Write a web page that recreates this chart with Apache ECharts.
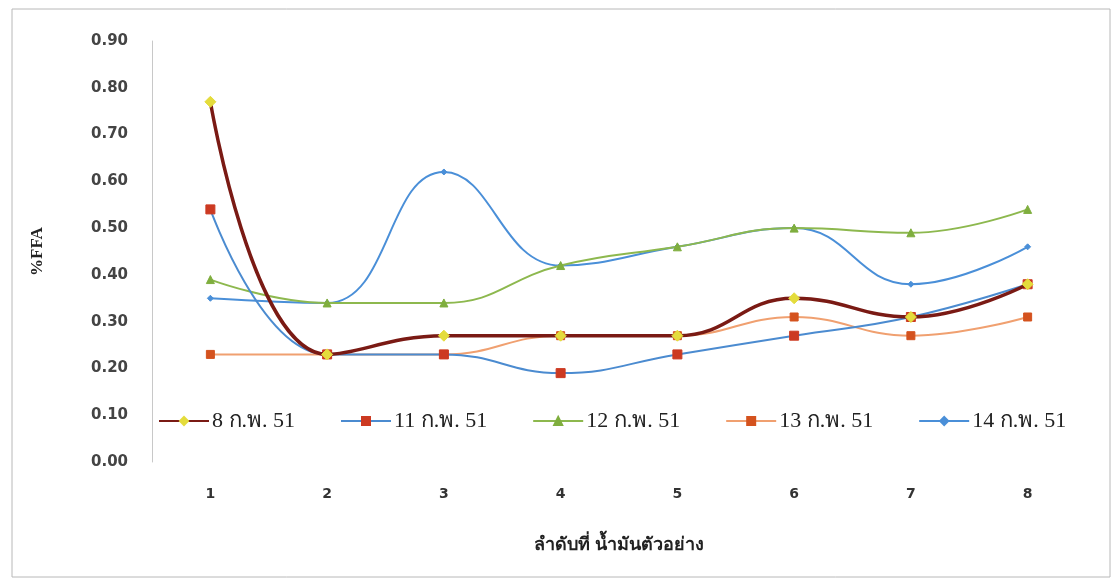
<!DOCTYPE html>
<html>
<head>
<meta charset="utf-8">
<script src="https://cdn.jsdelivr.net/npm/echarts@6/dist/echarts.min.js"></script>
<style>
  html, body { margin: 0; padding: 0; background: #ffffff; }
  #chart { width: 1112px; height: 578px; }
</style>
</head>
<body>
<div id="chart"></div>
<script>
// Sample order numbers along the x axis
const categories = ['1', '2', '3', '4', '5', '6', '7', '8'];

// %FFA per sampling date
const feb08 = [0.77, 0.23, 0.27, 0.27, 0.27, 0.35, 0.31, 0.38];
const feb11 = [0.54, 0.23, 0.23, 0.19, 0.23, 0.27, 0.31, 0.38];
const feb12 = [0.39, 0.34, 0.34, 0.42, 0.46, 0.50, 0.49, 0.54];
const feb13 = [0.23, 0.23, 0.23, 0.27, 0.27, 0.31, 0.27, 0.31];
const feb14 = [0.35, 0.34, 0.62, 0.42, 0.46, 0.50, 0.38, 0.46];

const seriesNames = ['8 ก.พ. 51', '11 ก.พ. 51', '12 ก.พ. 51', '13 ก.พ. 51', '14 ก.พ. 51'];

const chart = echarts.init(document.getElementById('chart'), null, { renderer: 'canvas' });

function lineSeries(name, data, lineColor, lineWidth, symbol, symbolSize, markColor, z) {
  return {
    name: name,
    type: 'line',
    data: data,
    smooth: 0.45,
    z: z,
    symbol: symbol,
    symbolSize: symbolSize,
    lineStyle: { color: lineColor, width: lineWidth },
    itemStyle: { color: markColor, borderColor: markColor, borderWidth: 1 },
    emphasis: { disabled: true }
  };
}

chart.setOption({
  animation: false,
  backgroundColor: '#ffffff',
  textStyle: { fontFamily: 'Liberation Serif, DejaVu Serif, serif' },
  graphic: [{
    type: 'rect',
    shape: { x: 12, y: 9, width: 1098, height: 568 },
    style: { fill: 'none', stroke: '#b8b8b8', lineWidth: 1 },
    silent: true,
    z: -10
  }],
  grid: { left: 152, right: 26, top: 41, bottom: 116, containLabel: false },
  xAxis: {
    type: 'category',
    data: categories,
    boundaryGap: true,
    name: 'ลำดับที่ น้ำมันตัวอย่าง',
    nameLocation: 'middle',
    nameGap: 74,
    nameTextStyle: { fontSize: 18, fontWeight: 'bold', color: '#222222', fontFamily: 'Liberation Serif, DejaVu Serif, serif' },
    axisLine: { show: false },
    axisTick: { show: false },
    axisLabel: { margin: 25, fontSize: 14, fontWeight: 'bold', color: '#333333', fontFamily: 'DejaVu Sans, sans-serif' },
    splitLine: { show: false }
  },
  yAxis: {
    type: 'value',
    min: 0,
    max: 0.9,
    interval: 0.1,
    name: '%FFA',
    nameLocation: 'middle',
    nameGap: 106,
    nameRotate: 90,
    nameTextStyle: { fontSize: 17, fontWeight: 'bold', color: '#222222', fontFamily: 'Liberation Serif, DejaVu Serif, serif' },
    axisLine: { show: true, lineStyle: { color: '#c8c8c8', width: 1 } },
    axisTick: { show: false },
    axisLabel: {
      margin: 24,
      fontSize: 15,
      fontWeight: 'bold',
      color: '#444444',
      fontFamily: 'DejaVu Sans, sans-serif',
      formatter: v => v.toFixed(2)
    },
    splitLine: { show: false }
  },
  legend: {
    data: seriesNames,
    left: 154,
    top: 408,
    itemWidth: 50,
    itemHeight: 10,
    itemGap: 45,
    backgroundColor: '#ffffff',
    padding: [2, 4],
    textStyle: {
      fontSize: 22,
      color: '#222222',
      fontFamily: 'Liberation Serif, DejaVu Serif, serif',
      padding: [0, 0, 0, -2]
    }
  },
  series: [
    lineSeries(seriesNames[0], feb08, '#7a1a14', 3.5, 'diamond', 11, '#e4dc3c', 5),
    lineSeries(seriesNames[1], feb11, '#4b8bd0', 2, 'rect', 9, '#cc3a22', 4),
    lineSeries(seriesNames[2], feb12, '#8db84e', 2, 'triangle', 8, '#7fae3e', 3),
    lineSeries(seriesNames[3], feb13, '#f0a070', 2, 'rect', 8, '#d4521e', 2),
    lineSeries(seriesNames[4], feb14, '#4a8fd8', 2, 'diamond', 6, '#4a8fd8', 1)
  ]
});
</script>
</body>
</html>
